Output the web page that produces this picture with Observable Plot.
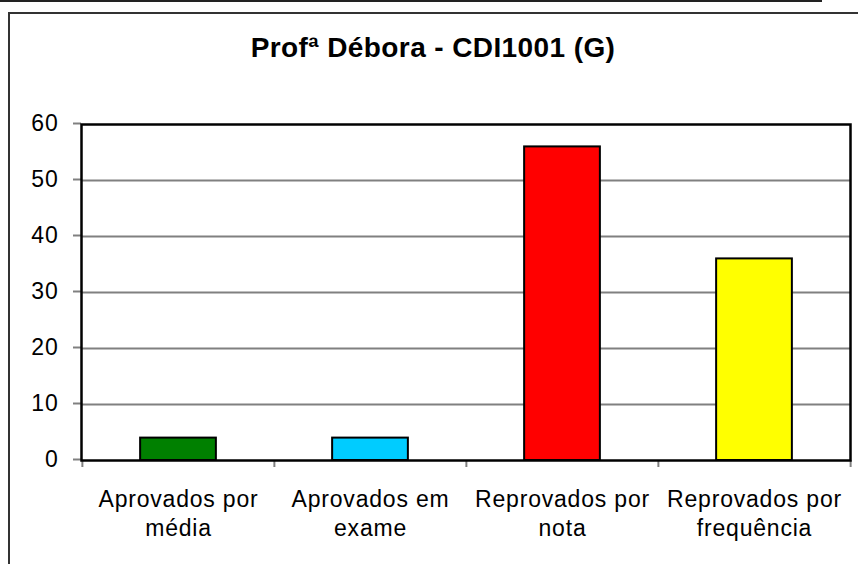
<!DOCTYPE html>
<html>
<head>
<meta charset="utf-8">
<script src="https://cdn.jsdelivr.net/npm/d3@7"></script>
<script src="https://cdn.jsdelivr.net/npm/@observablehq/plot@0.6"></script>
<style>
  html, body { margin: 0; padding: 0; background: #fff; }
  #chart { position: relative; width: 858px; height: 564px; overflow: hidden; font-family: "Liberation Sans", Arial, sans-serif; }
  #chart svg { position: absolute; left: 0; top: 0; }
  #chart svg text { letter-spacing: 0.8px; }
  .line { position: absolute; background: #000; }
  #title { position: absolute; left: 8px; width: 850px; top: 34px; line-height: 28px; text-align: center; font-weight: bold; font-size: 28px; letter-spacing: 0.4px; color: #000; }
</style>
</head>
<body>
<div id="chart">
  <div class="line" style="left:0;top:0;width:822px;height:2px;background:#222"></div>
  <div class="line" style="left:8px;top:12px;width:850px;height:2px;background:#333"></div>
  <div class="line" style="left:8px;top:12px;width:2px;height:552px;background:#333"></div>
  <div id="title">Profª Débora - CDI1001 (G)</div>
</div>
<script>
// Resultado da turma por situação final
const categories = ["Aprovados por média", "Aprovados em exame", "Reprovados por nota", "Reprovados por frequência"];
const labelLines = [["Aprovados por", "média"], ["Aprovados em", "exame"], ["Reprovados por", "nota"], ["Reprovados por", "frequência"]];
const counts = [4, 4, 56, 36];
const colors = ["#008000", "#00CCFF", "#FF0000", "#FFFF00"];
const yTicks = [0, 10, 20, 30, 40, 50, 60];

const data = categories.map((c, i) => ({category: c, count: counts[i], color: colors[i]}));
const labelOf = new Map(categories.map((c, i) => [c, labelLines[i].join("\n")]));

const width = 858, height = 564;
const marginLeft = 81, marginRight = 8, marginTop = 124, marginBottom = 104;
const band = (width - marginLeft - marginRight) / categories.length;
const barWidth = 76;

const chart = Plot.plot({
  width, height, marginLeft, marginRight, marginTop, marginBottom,
  style: {fontFamily: "'Liberation Sans', Arial, sans-serif", color: "#000", background: "transparent"},
  x: {domain: categories, padding: 0},
  y: {domain: [0, 60]},
  marks: [
    Plot.gridY(yTicks.slice(1, -1), {stroke: "#808080", strokeOpacity: 1, strokeWidth: 2}),
    Plot.axisY(yTicks, {tickSize: 8, tickPadding: 15, stroke: "#808080", strokeWidth: 2, fontSize: 23, dy: -1, label: null}),
    // category separators below the baseline
    Plot.axisX(categories, {tickSize: 7, dx: -band / 2, stroke: "#808080", strokeWidth: 2, fill: "none", label: null}),
    Plot.axisX(categories.slice(-1), {tickSize: 7, dx: band / 2, stroke: "#808080", strokeWidth: 2, fill: "none", label: null}),
    Plot.axisX(categories, {tickSize: 0, tickPadding: 26, fontSize: 23, lineHeight: 1.26, tickFormat: d => labelOf.get(d), label: null}),
    Plot.barY(data, {x: "category", y: "count", fill: "color", stroke: "#000", strokeWidth: 2,
      insetLeft: (band - barWidth) / 2, insetRight: (band - barWidth) / 2}),
    Plot.frame({stroke: "#000", strokeWidth: 2.5})
  ]
});
document.getElementById("chart").prepend(chart);
</script>
</body>
</html>
